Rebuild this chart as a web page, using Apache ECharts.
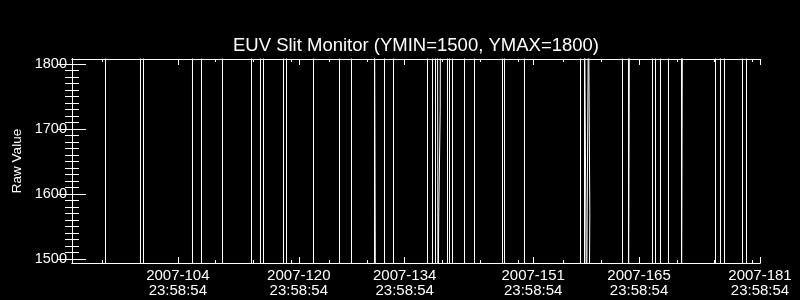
<!DOCTYPE html>
<html><head><meta charset="utf-8">
<script src="https://cdn.jsdelivr.net/npm/echarts@6/dist/echarts.min.js"></script>
<style>html,body{margin:0;padding:0;background:#000}#c{width:800px;height:300px}</style>
</head><body><div id="c"></div>
<script>
const titleText = 'EUV Slit Monitor (YMIN=1500, YMAX=1800)';
const yAxisName = 'Raw Value';
// x values: days since 2007-090 23:58:54
const xMin = 0, xMax = 91;
const yMin = 1493.5, yMax = 1808;
const xTickDays = [14, 30, 44, 61, 75, 91];
const xTickLabels = ['2007-104\n23:58:54', '2007-120\n23:58:54', '2007-134\n23:58:54',
                     '2007-151\n23:58:54', '2007-165\n23:58:54', '2007-181\n23:58:54'];
const xMinorDays = [4, 9, 14, 19, 24, 29, 34, 39, 44, 49, 54, 59, 65, 70, 75, 80, 85, 90];
const yTickValues = [1500, 1600, 1700, 1800];
const yMinorValues = [1510,1520,1530,1540,1550,1560,1570,1580,1590,
                      1610,1620,1630,1640,1650,1660,1670,1680,1690,
                      1710,1720,1730,1740,1750,1760,1770,1780,1790];

const pointDays = [
  0,
  4.4310,4.4310, 9.0603,9.0603, 9.4571,9.4571, 15.9382,15.9382, 17.1286,17.1286,
  19.9062,19.9062, 23.7420,23.7420, 24.9324,24.9324, 25.3292,25.3292, 27.9745,27.9745,
  28.3714,28.3714, 31.9426,31.9426, 35.3815,35.3815, 36.9687,36.9687, 40.0109,40.0109,
  40.1432,40.1432, 41.3336,41.3336, 42.5240,42.5240, 47.0211,47.0211, 47.6824,47.6824,
  48.0792,48.0792, 48.741,48.701,48.516,48.410, 48.3438,48.3438,
  49.6664,49.6664, 49.9310,49.9310, 50.3278,50.3278, 51.9150,51.9150, 53.2376,53.2376,
  56.9411,56.9411, 57.2057,57.2057, 59.8510,59.8510, 67.2580,67.2580, 67.7871,67.7871,
  68.0516,68.0516, 68.3161,68.3161, 68.515,68.488,68.409,
  72.8132,72.8132, 73.6068,73.6068, 73.7390,73.7390, 76.7810,76.7810, 77.1778,77.1778,
  77.8392,77.8392, 78.8973,78.8973, 80.6168,80.6168, 80.7491,80.7491, 85.1138,85.1138,
  85.7751,85.7751, 86.3042,86.3042, 88.6850,88.6850, 89.2140,89.2140,
  91
];
const pointValues = [
  1400,
  1400,1900, 1900,1400, 1400,1900, 1900,1400, 1400,1900,
  1900,1400, 1400,1900, 1900,1400, 1400,1900, 1900,1400,
  1400,1900, 1900,1400, 1400,1900, 1900,1400, 1400,1900,
  1900,1400, 1400,1900, 1900,1400, 1400,1900, 1900,1400,
  1400,1900, 1900,1729,1571,1400, 1400,1900,
  1900,1400, 1400,1900, 1900,1400, 1400,1900, 1900,1400,
  1400,1900, 1900,1400, 1400,1900, 1900,1400, 1400,1900,
  1900,1400, 1400,1900, 1900,1571,1400,
  1400,1900, 1900,1400, 1400,1900, 1900,1400, 1400,1900,
  1900,1400, 1400,1900, 1900,1400, 1400,1900, 1900,1400,
  1400,1900, 1900,1400, 1400,1900, 1900,1400,
  1400
];

const FONT = 'Liberation Sans';
const W = '#ffffff';
const chart = echarts.init(document.getElementById('c'), null, {renderer: 'canvas'});

function xAxisCfg(pos, ticks, len, labels) {
  return {
    type: 'value', position: pos, min: xMin, max: xMax,
    axisLine: {show: true, lineStyle: {color: W, width: 1}},
    axisTick: {show: true, inside: true, length: len, customValues: ticks, lineStyle: {color: W, width: 1}},
    axisLabel: labels ? {
      show: true, customValues: xTickDays, color: W, fontFamily: FONT, fontSize: 15,
      lineHeight: 15, margin: 5,
      formatter: function (v) { const i = xTickDays.indexOf(v); return i >= 0 ? xTickLabels[i] : ''; }
    } : {show: false},
    splitLine: {show: false}
  };
}
function yAxisCfg(pos, ticks, len, labels) {
  return {
    type: 'value', position: pos, min: yMin, max: yMax,
    axisLine: {show: true, lineStyle: {color: W, width: 1}},
    axisTick: {show: true, inside: true, length: len, customValues: ticks, lineStyle: {color: W, width: 1}},
    axisLabel: labels ? {
      show: true, customValues: yTickValues, color: W, fontFamily: FONT, fontSize: 14.5, margin: 5,
      formatter: function (v) { return String(Math.round(v)); }
    } : {show: false},
    splitLine: {show: false},
    name: labels ? yAxisName : '',
    nameLocation: 'middle', nameGap: 45, nameRotate: 90,
    nameTextStyle: {color: W, fontFamily: FONT, fontSize: 13.5}
  };
}

chart.setOption({
  animation: false,
  backgroundColor: '#000000',
  title: {
    text: titleText, left: 416, top: 36, textAlign: 'center', padding: 0,
    textStyle: {color: W, fontFamily: FONT, fontSize: 18.5, fontWeight: 'normal'}
  },
  grid: {left: 72, right: 40, top: 59, bottom: 37, containLabel: false, outerBoundsMode: 'none'},
  xAxis: [
    xAxisCfg('bottom', xTickDays, 6, true),
    xAxisCfg('bottom', xMinorDays, 3, false),
    xAxisCfg('top', xTickDays, 6, false),
    xAxisCfg('top', xMinorDays, 3, false)
  ],
  yAxis: [
    yAxisCfg('left', yTickValues, 14, true),
    yAxisCfg('left', yMinorValues, 7, false),
    yAxisCfg('right', yTickValues, 14, false),
    yAxisCfg('right', yMinorValues, 7, false)
  ],
  series: [{
    type: 'line', xAxisIndex: 0, yAxisIndex: 0, clip: true,
    symbol: 'none', showSymbol: false,
    lineStyle: {color: W, width: 1},
    data: pointDays.map((d, i) => [d, pointValues[i]])
  }]
});
</script></body></html>
